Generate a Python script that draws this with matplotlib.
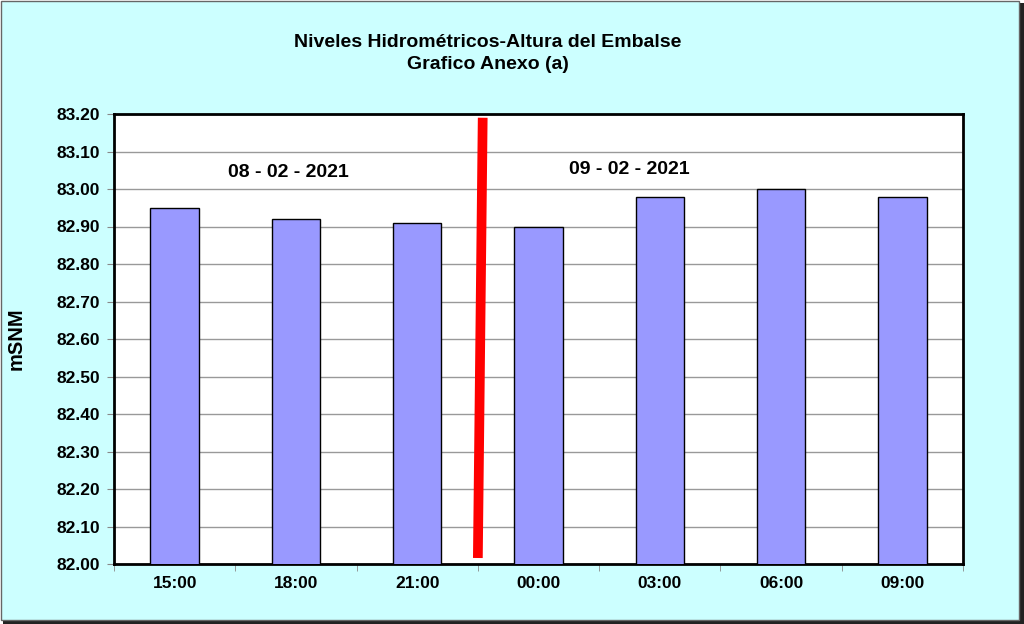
from matplotlib import pyplot as plt
from matplotlib.patches import Rectangle
import numpy as np

plt.rcParams['font.family'] = ['Liberation Sans', 'DejaVu Sans']
plt.rcParams['font.weight'] = 'bold'

horas = ["15:00", "18:00", "21:00", "00:00", "03:00", "06:00", "09:00"]
niveles = [82.95, 82.92, 82.91, 82.90, 82.98, 83.00, 82.98]
fechas = ["08 - 02 - 2021", "09 - 02 - 2021"]
yticks = [82.00, 82.10, 82.20, 82.30, 82.40, 82.50, 82.60, 82.70, 82.80,
          82.90, 83.00, 83.10, 83.20]

fig = plt.figure(figsize=(10.24, 6.24), dpi=100)
fig.patch.set_facecolor('white')

# marco con sombra
fig.patches.append(Rectangle((3 / 1024, 0), 1021 / 1024, 621 / 624,
                             transform=fig.transFigure, facecolor='#222222',
                             edgecolor='none', zorder=-2))
fig.patches.append(Rectangle((0.5 / 1024, 4 / 624), 1018 / 1024, 619.5 / 624,
                             transform=fig.transFigure, facecolor='#CCFFFF',
                             edgecolor='#666666', linewidth=1, zorder=-1))

ax = fig.add_axes([114 / 1024, 60 / 624, 849 / 1024, 450 / 624])
x = np.arange(len(horas))
ax.bar(x, niveles, width=0.4, bottom=0, color='#9999FF',
       edgecolor='black', linewidth=1, zorder=3)
ax.set_xlim(-0.5, len(horas) - 0.5)
ax.set_ylim(82.0, 83.2)
ax.set_yticks(yticks)
ax.set_yticklabels(["{:.2f}".format(v) for v in yticks], fontsize=12.5,
                   fontweight='bold')
ax.set_xticks(x)
ax.set_xticklabels(horas, fontsize=12.5, fontweight='bold')
ax.set_xticks(np.arange(-0.5, len(horas), 1), minor=True)
ax.tick_params(axis='x', which='major', length=0, pad=9)
ax.tick_params(axis='x', which='minor', length=5, color='#888888')
ax.tick_params(axis='y', length=5, color='#888888', pad=5)
ax.grid(True, axis='y', color='#999999', linewidth=1, zorder=0)
for s in ax.spines.values():
    s.set_linewidth(2)
    s.set_color('black')

ax.plot([2.54, 2.5], [83.19, 82.016], color='#FF0000', linewidth=7,
        solid_capstyle='butt', zorder=4)

ax.text(0.94, 83.043, fechas[0], ha='center', va='center', fontsize=14,
        fontweight='bold')
ax.text(3.745, 83.051, fechas[1], ha='center', va='center', fontsize=14,
        fontweight='bold')

ax.set_ylabel("mSNM", fontsize=14.5, fontweight='bold', labelpad=22)

fig.text(488 / 1024, 1 - 53.5 / 624,
         "Niveles Hidrométricos-Altura del Embalse\nGrafico Anexo (a)",
         ha='center', va='center', fontsize=14, fontweight='bold',
         linespacing=1.35)

plt.savefig('out.png', dpi=100)
